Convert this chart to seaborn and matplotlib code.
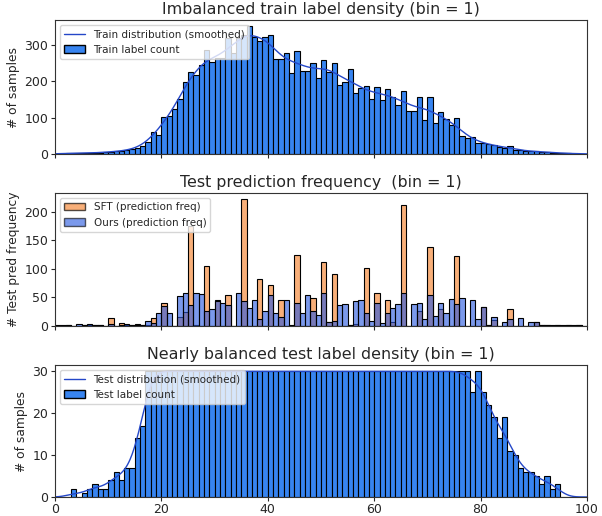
import numpy as np
import pandas as pd
import matplotlib
matplotlib.use("Agg")
import matplotlib.pyplot as plt
import seaborn as sns
from matplotlib.lines import Line2D
from matplotlib.patches import Patch

# ---------------- data (one value per unit bin, bins 0..99) ----------------
bin_edges = np.arange(0, 101)
bin_centers = bin_edges[:-1] + 0.5

train_counts = [
    1, 1, 2, 2, 3, 2, 3, 3, 4, 5,
    6, 7, 8, 10, 13, 16, 21, 33, 61, 52,
    102, 104, 125, 153, 199, 225, 218, 246, 286, 255,
    264, 264, 320, 278, 320, 329, 352, 324, 311, 324,
    329, 262, 262, 278, 223, 283, 230, 230, 252, 209,
    258, 227, 250, 190, 199, 234, 169, 183, 187, 153,
    185, 148, 178, 157, 134, 173, 118, 118, 156, 93,
    157, 86, 116, 96, 79, 99, 49, 45, 47, 29,
    31, 27, 24, 20, 17, 21, 12, 10, 8, 8,
    7, 6, 5, 4, 3, 2, 2, 1, 1, 0,
]

sft_pred = [
    1, 0, 1, 0, 0, 1, 1, 1, 1, 0,
    14, 0, 6, 1, 2, 4, 1, 2, 14, 0,
    40, 0, 0, 16, 25, 176, 2, 0, 106, 0,
    45, 0, 55, 0, 0, 222, 0, 0, 83, 0,
    72, 0, 46, 0, 0, 125, 0, 0, 49, 0,
    112, 7, 92, 0, 0, 2, 4, 0, 101, 0,
    58, 0, 46, 7, 0, 212, 0, 0, 26, 0,
    138, 0, 29, 0, 0, 123, 0, 0, 0, 0,
    33, 2, 10, 0, 0, 29, 0, 0, 0, 0,
    7, 2, 1, 0, 1, 1, 1, 0, 1, 0,
]

ours_pred = [
    0, 1, 1, 0, 4, 1, 4, 1, 1, 0,
    4, 0, 2, 4, 2, 2, 2, 8, 6, 23,
    35, 23, 0, 53, 57, 37, 57, 56, 26, 30,
    44, 41, 37, 0, 58, 44, 31, 46, 13, 26,
    54, 23, 15, 46, 1, 40, 23, 55, 26, 19,
    58, 7, 9, 37, 38, 2, 44, 46, 23, 9,
    40, 6, 22, 32, 39, 58, 0, 39, 41, 13,
    55, 17, 41, 23, 47, 39, 49, 0, 45, 13,
    33, 2, 15, 0, 7, 13, 0, 14, 0, 7,
    7, 2, 1, 1, 1, 0, 1, 1, 1, 0,
]

test_counts = [
    0, 0, 0, 2, 0, 1, 2, 3, 2, 2,
    4, 6, 4, 7, 7, 14, 17, 30, 30, 30,
    30, 30, 30, 30, 30, 30, 30, 30, 30, 30,
    30, 30, 30, 30, 30, 30, 30, 30, 30, 30,
    30, 30, 30, 30, 30, 30, 30, 30, 30, 30,
    30, 30, 30, 30, 30, 30, 30, 30, 30, 30,
    30, 30, 30, 30, 30, 30, 30, 30, 30, 30,
    30, 30, 30, 30, 30, 30, 30, 30, 25, 30,
    25, 22, 19, 14, 19, 11, 10, 7, 6, 6,
    5, 3, 5, 2, 3, 0, 0, 0, 0, 0,
]

x_ticks = [0, 20, 40, 60, 80, 100]

BAR_BLUE = "#3784f0"
LINE_BLUE = "#2447c8"
SFT_COLOR = "#f5893a"
OURS_COLOR = "#2a5ae0"


def smooth_curve(counts, grid, sigma=1.8):
    c = np.asarray(counts, dtype=float)
    kern = np.exp(-0.5 * ((grid[:, None] - bin_centers[None, :]) / sigma) ** 2)
    kern /= sigma * np.sqrt(2 * np.pi)
    return kern @ c


sns.set_theme(style="ticks")
plt.rcParams["font.family"] = ["DejaVu Sans"]

fig = plt.figure(figsize=(6.02, 5.16), dpi=100)
W, H = 602, 516


def add_ax(top, bottom, left=55, right=587):
    return fig.add_axes([left / W, 1 - bottom / H, (right - left) / W, (bottom - top) / H])


ax1 = add_ax(20, 154)
ax2 = add_ax(193, 326)
ax3 = add_ax(365, 497)

grid = np.linspace(0, 100, 801)
HKW = dict(binwidth=1, binrange=(0, 100), edgecolor="black", linewidth=0.8)
TITLE_FS = 11.4
YLAB_FS = 8.8
LEG_FS = 7.5

# ---------- top: train ----------
df_train = pd.DataFrame({"label": bin_centers, "count": train_counts})
sns.histplot(data=df_train, x="label", weights="count",
             color=BAR_BLUE, alpha=1.0, ax=ax1, **HKW)
sns.lineplot(x=grid, y=smooth_curve(train_counts, grid), color=LINE_BLUE, lw=1.0, ax=ax1)
ax1.set_title("Imbalanced train label density (bin = 1)", fontsize=TITLE_FS, pad=4)
ax1.set_ylabel("# of samples", fontsize=YLAB_FS, labelpad=3)
ax1.legend(handles=[Line2D([], [], color=LINE_BLUE, lw=1.0),
                    Patch(facecolor=BAR_BLUE, edgecolor="black")],
           labels=["Train distribution (smoothed)", "Train label count"],
           loc="upper left", fontsize=LEG_FS)

# ---------- middle: predictions ----------
df_pred = pd.DataFrame({"label": bin_centers, "sft": sft_pred, "ours": ours_pred})
sns.histplot(data=df_pred, x="label", weights="sft",
             color=SFT_COLOR, alpha=0.68, ax=ax2, **HKW)
sns.histplot(data=df_pred, x="label", weights="ours",
             color=OURS_COLOR, alpha=0.62, ax=ax2, **HKW)
ax2.set_title("Test prediction frequency  (bin = 1)", fontsize=TITLE_FS, pad=4)
ax2.set_ylabel("# Test pred frequency", fontsize=YLAB_FS, labelpad=3)
ax2.legend(handles=[Patch(facecolor=SFT_COLOR, alpha=0.68, edgecolor="black"),
                    Patch(facecolor=OURS_COLOR, alpha=0.62, edgecolor="black")],
           labels=["SFT (prediction freq)", "Ours (prediction freq)"],
           loc="upper left", fontsize=LEG_FS)

# ---------- bottom: test ----------
df_test = pd.DataFrame({"label": bin_centers, "count": test_counts})
sns.histplot(data=df_test, x="label", weights="count",
             color=BAR_BLUE, alpha=1.0, ax=ax3, **HKW)
sns.lineplot(x=grid, y=smooth_curve(test_counts, grid, sigma=1.5), color=LINE_BLUE, lw=1.0, ax=ax3)
ax3.set_title("Nearly balanced test label density (bin = 1)", fontsize=TITLE_FS, pad=4)
ax3.set_ylabel("# of samples", fontsize=YLAB_FS, labelpad=3)
ax3.legend(handles=[Line2D([], [], color=LINE_BLUE, lw=1.0),
                    Patch(facecolor=BAR_BLUE, edgecolor="black")],
           labels=["Test distribution (smoothed)", "Test label count"],
           loc="upper left", fontsize=LEG_FS)

for ax in (ax1, ax2, ax3):
    ax.set_xlim(0, 100)
    ax.set_xticks(x_ticks)
    ax.set_xlabel("")
    ax.tick_params(labelsize=9, length=3, width=0.8, pad=2)
    for s in ax.spines.values():
        s.set_visible(True)
        s.set_color("#333333")
        s.set_linewidth(0.8)

ax3.tick_params(axis="x", pad=1.2)
ax1.tick_params(labelbottom=False)
ax2.tick_params(labelbottom=False)
ax1.set_ylim(0, max(train_counts) * 1.05)
ax2.set_ylim(0, max(sft_pred) * 1.05)
ax3.set_ylim(0, max(test_counts) * 1.05)
ax1.set_yticks([0, 100, 200, 300])
ax2.set_yticks([0, 50, 100, 150, 200])
ax3.set_yticks([0, 10, 20, 30])

fig.savefig("out.png", dpi=100)
